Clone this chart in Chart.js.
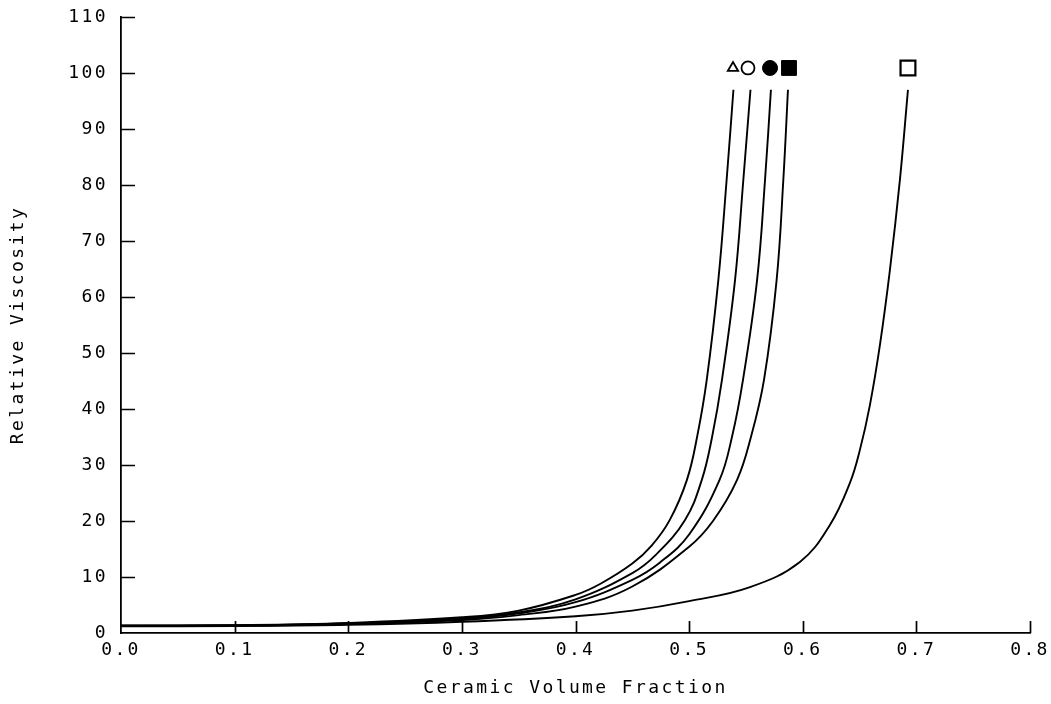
<!DOCTYPE html>
<html>
<head>
<meta charset="utf-8">
<script src="https://cdn.jsdelivr.net/npm/chart.js@4.4.1/dist/chart.umd.min.js"></script>
<style>
  html, body { margin: 0; padding: 0; background: #fff; }
  #wrap { width: 1051px; height: 704px; }
</style>
</head>
<body>
<div id="wrap"><canvas id="c" width="1051" height="704"></canvas></div>
<script>
// ---- data ----
const xTickValues = [0.0, 0.1, 0.2, 0.3, 0.4, 0.5, 0.6, 0.7, 0.8];
const yTickValues = [0, 10, 20, 30, 40, 50, 60, 70, 80, 90, 100, 110];

// curve marked with open triangle
const phiTriangle  = [0.0, 0.1, 0.2, 0.3, 0.35, 0.4, 0.422, 0.45, 0.467, 0.483, 0.498, 0.507, 0.5155, 0.5257, 0.533, 0.539];
const viscTriangle = [1.3, 1.4, 1.8, 2.8, 4.0, 6.8, 8.8, 12.4, 15.6, 20.2, 27.3, 35.0, 45.2, 63.0, 80.9, 97.0];

// curve marked with open circle
const phiCircle  = [0.0, 0.1, 0.2, 0.3, 0.35, 0.4, 0.45, 0.4709, 0.4964, 0.5111, 0.5202, 0.5289, 0.5404, 0.5477, 0.554];
const viscCircle = [1.3, 1.35, 1.7, 2.6, 3.7, 6.0, 10.7, 14.0, 20.2, 27.3, 35.0, 45.2, 63.0, 80.9, 97.0];

// curve marked with filled circle
const phiDot  = [0.0, 0.1, 0.2, 0.3, 0.35, 0.4, 0.45, 0.4744, 0.5, 0.5267, 0.5377, 0.5474, 0.5598, 0.5668, 0.572];
const viscDot = [1.3, 1.35, 1.65, 2.5, 3.5, 5.5, 9.5, 12.6, 17.6, 27.3, 35.0, 45.2, 63.0, 80.9, 97.0];

// curve marked with filled square
const phiSquare  = [0.0, 0.1, 0.2, 0.3, 0.35, 0.4, 0.45, 0.5, 0.521, 0.5421, 0.5544, 0.5659, 0.577, 0.5829, 0.587];
const viscSquare = [1.3, 1.3, 1.6, 2.3, 3.2, 4.7, 8.3, 15.4, 20.0, 27.3, 35.0, 45.2, 63.0, 80.9, 97.0];

// curve marked with open square
const phiOpenSq  = [0.0, 0.1, 0.2, 0.3, 0.4, 0.45, 0.5, 0.5536, 0.5975, 0.6239, 0.6415, 0.6503, 0.6591, 0.6679, 0.6767, 0.6855, 0.6926];
const viscOpenSq = [1.2, 1.25, 1.45, 2.0, 3.0, 4.0, 5.7, 8.2, 12.7, 19.3, 26.8, 32.7, 40.7, 51.4, 64.8, 80.9, 97.0];

// markers at the top of the curves
const markerPhi  = [0.5386, 0.5518, 0.5712, 0.5879, 0.6926];
const markerVisc = [100.9, 100.9, 100.9, 100.9, 100.9];

const xTitle = 'Ceramic Volume Fraction';
const yTitle = 'Relative Viscosity';

// ---- build ----
function pts(xs, ys) { return xs.map((x, i) => ({ x: x, y: ys[i] })); }

const curveStyle = {
  type: 'line',
  borderColor: '#000',
  borderWidth: 1.9,
  pointRadius: 0,
  fill: false,
  tension: 0.4
};

const LS = '2.4px';
const letterSpacingPlugin = {
  id: 'ls',
  beforeLayout(chart) { chart.ctx.letterSpacing = LS; },
  beforeDraw(chart) { chart.ctx.letterSpacing = LS; }
};

const inwardTicks = {
  id: 'inwardTicks',
  afterDraw(chart) {
    const ctx = chart.ctx;
    const xs = chart.scales.x, ys = chart.scales.y;
    const a = chart.chartArea;
    ctx.save();
    ctx.strokeStyle = '#000';
    ctx.lineWidth = 1.7;
    ctx.beginPath();
    xTickValues.forEach(v => {
      if (v === 0) return;
      const px = Math.round(xs.getPixelForValue(v)) + 0.5;
      ctx.moveTo(px, a.bottom);
      ctx.lineTo(px, a.bottom - 12);
    });
    yTickValues.forEach(v => {
      if (v === 0) return;
      const py = Math.round(ys.getPixelForValue(v)) + 0.5;
      ctx.moveTo(a.left, py);
      ctx.lineTo(a.left + 14, py);
    });
    ctx.stroke();
    ctx.restore();
  }
};

const FONT = "'DejaVu Sans Mono', 'Liberation Mono', monospace";

new Chart(document.getElementById('c'), {
  data: {
    datasets: [
      Object.assign({ label: 'triangle', data: pts(phiTriangle, viscTriangle) }, curveStyle),
      Object.assign({ label: 'circle', data: pts(phiCircle, viscCircle) }, curveStyle),
      Object.assign({ label: 'dot', data: pts(phiDot, viscDot) }, curveStyle),
      Object.assign({ label: 'square', data: pts(phiSquare, viscSquare) }, curveStyle),
      Object.assign({ label: 'open square', data: pts(phiOpenSq, viscOpenSq) }, curveStyle),
      {
        type: 'scatter',
        label: 'markers',
        data: pts(markerPhi, markerVisc),
        pointStyle: ['triangle', 'circle', 'circle', 'rect', 'rect'],
        pointRadius: [6, 6.5, 7.5, 10.5, 10.5],
        pointBackgroundColor: ['#fff', '#fff', '#000', '#000', '#fff'],
        pointBorderColor: '#000',
        pointBorderWidth: [1.8, 1.8, 1, 1, 2.2],
        showLine: false
      }
    ]
  },
  options: {
    responsive: false,
    animation: false,
    events: [],
    layout: { padding: { top: 17, right: 21, bottom: 0, left: 0 } },
    plugins: { legend: { display: false }, tooltip: { enabled: false } },
    scales: {
      x: {
        type: 'linear',
        min: 0, max: 0.8,
        afterFit(s) { s.height = 71; s.paddingLeft = 0; s.paddingRight = 0; },
        afterBuildTicks(s) { s.ticks = xTickValues.map(v => ({ value: v })); },
        ticks: {
          color: '#000',
          font: { family: FONT, size: 18 },
          padding: 7,
          maxRotation: 0,
          callback: v => Number(v).toFixed(1)
        },
        grid: { display: true, drawOnChartArea: false, drawTicks: false },
        border: { display: true, color: '#000', width: 1.8 },
        title: {
          display: true, text: xTitle, color: '#000',
          font: { family: FONT, size: 18 },
          padding: { top: 0, bottom: 5 }
        }
      },
      y: {
        type: 'linear',
        min: 0, max: 110,
        afterFit(s) { s.width = 121; s.paddingTop = 0; s.paddingBottom = 0; },
        afterBuildTicks(s) { s.ticks = yTickValues.map(v => ({ value: v })); },
        ticks: {
          color: '#000',
          font: { family: FONT, size: 18 },
          padding: 13,
          callback: v => String(v)
        },
        grid: { display: true, drawOnChartArea: false, drawTicks: false },
        border: { display: true, color: '#000', width: 1.8 },
        title: {
          display: true, text: yTitle, color: '#000',
          font: { family: FONT, size: 18 },
          padding: { top: 8, bottom: 0 }
        }
      }
    }
  },
  plugins: [letterSpacingPlugin, inwardTicks]
});
</script>
</body>
</html>
